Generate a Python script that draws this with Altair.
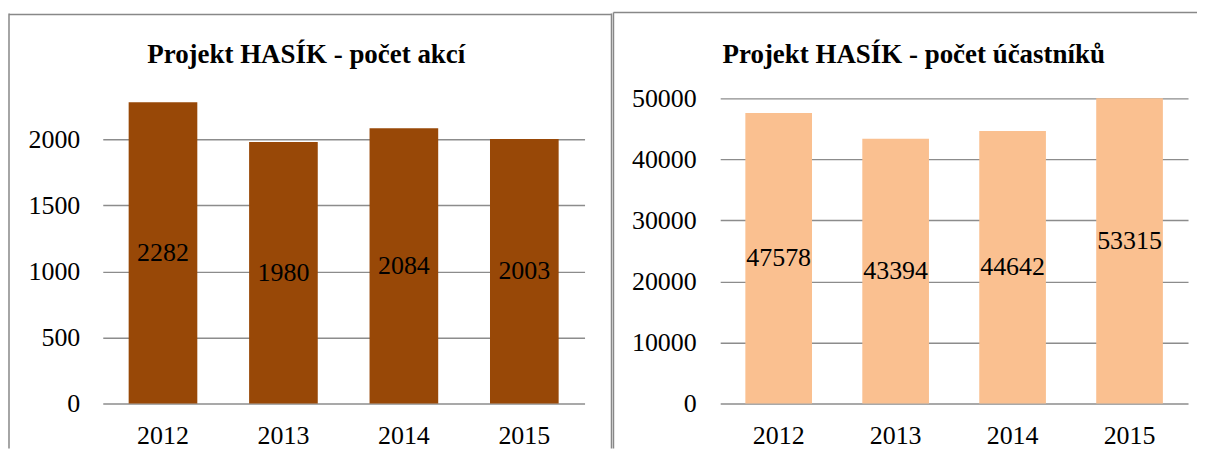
import altair as alt
import pandas as pd

years = ["2012", "2013", "2014", "2015"]
akce = [2282, 1980, 2084, 2003]
ucastnici = [47578, 43394, 44642, 53315]
title_left = "Projekt HASÍK - počet akcí"
title_right = "Projekt HASÍK - počet účastníků"
ticks_left = [0, 500, 1000, 1500, 2000]
ticks_right = [0, 10000, 20000, 30000, 40000, 50000]

FONT = "Liberation Serif"
GRID = "#8c8c8c"
BORDER = "#888888"


def panel(values, color, ticks, dmax, cap, width, ylabpad, title, title_x, borders):
    df = pd.DataFrame({"rok": years, "hodnota": values})
    base = alt.Chart(df).transform_calculate(
        bar=f"min(datum.hodnota, {cap})", mid="datum.hodnota / 2"
    )
    xscale = alt.Scale(paddingInner=0.43, paddingOuter=0.215)
    x = alt.X(
        "rok:N", sort=years, title=None, scale=xscale,
        axis=alt.Axis(labelAngle=0, labelFont=FONT, labelFontSize=26, labelColor="black",
                      labelPadding=19, ticks=False, tickSize=0, domain=False, grid=False),
    )
    yscale = alt.Scale(domain=[0, dmax], nice=False, zero=True)
    y = alt.Y(
        "bar:Q", scale=yscale, title=None,
        axis=alt.Axis(values=ticks, format="d", labelFont=FONT, labelFontSize=26,
                      labelColor="black", labelPadding=ylabpad, ticks=False, tickSize=0,
                      domain=False, grid=True, gridColor=GRID, gridWidth=1.4),
    )
    bars = base.mark_bar(color=color).encode(x=x, y=y)
    labels = base.mark_text(font=FONT, fontSize=26, color="black", baseline="middle",
                            align="center").encode(
        x=alt.X("rok:N", sort=years, scale=xscale),
        y=alt.Y("mid:Q", scale=yscale),
        text=alt.Text("hodnota:Q", format="d"),
    )
    one = alt.Chart(pd.DataFrame({"k": [0]}))
    ttl = one.mark_text(font=FONT, fontSize=27, fontWeight="bold", color="black",
                        align="center", baseline="alphabetic").encode(
        x=alt.value(title_x), y=alt.value(-10), text=alt.value(title)
    )
    layers = [bars, labels, ttl]
    for (x1, y1, x2, y2) in borders:
        layers.append(
            one.mark_rule(color=BORDER, strokeWidth=1.5).encode(
                x=alt.value(x1), y=alt.value(y1), x2=alt.value(x2), y2=alt.value(y2)
            )
        )
    return alt.layer(*layers).properties(width=width, height=331)


left = panel(akce, "#984807", ticks_left, 2500, 100000, 483, 23, title_left, 204,
             [(-94, -60, -94, 376), (-94, -59, 510, -59), (510, -60, 510, 376)])
right = panel(ucastnici, "#FAC090", ticks_right, 54085, 50000, 469, 24, title_right, 194,
              [(-107, -61, -107, 376), (-107, -61, 478, -61)])

chart = alt.hconcat(left, right, spacing=0).properties(
    padding={"left": 0, "top": 3, "right": 0, "bottom": 0}
).configure_view(stroke=None)

chart.save("out.html", embed_options={"renderer": "svg", "actions": False})
